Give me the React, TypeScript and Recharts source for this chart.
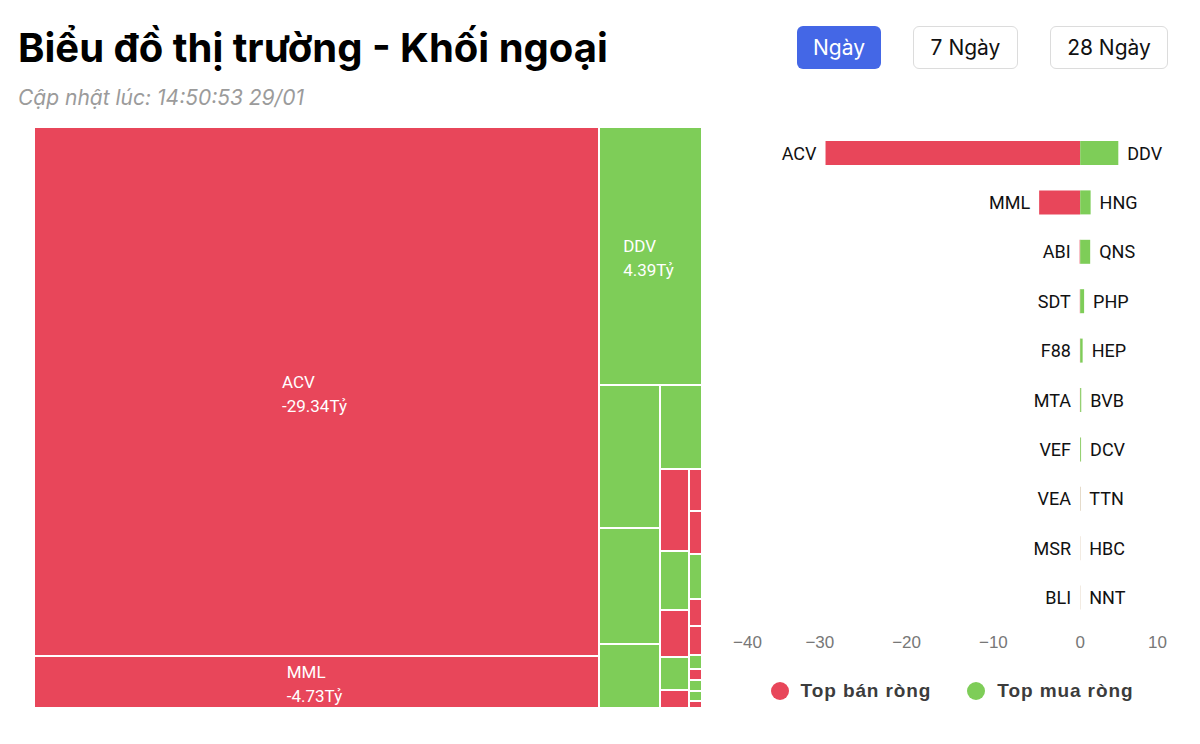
import React from 'react';
import { Treemap, BarChart, Bar, XAxis, YAxis, LabelList, Legend } from 'recharts';

const RED = '#e8465a';
const GREEN = '#7ecd58';

// top 10 net sell / net buy, tỷ đồng
const sellNames = ['ACV', 'MML', 'ABI', 'SDT', 'F88', 'MTA', 'VEF', 'VEA', 'MSR', 'BLI'];
const sellValues = [-29.34, -4.73, -0.06, -0.04, -0.03, -0.03, -0.02, -0.02, -0.01, -0.01];
const buyNames = ['DDV', 'HNG', 'QNS', 'PHP', 'HEP', 'BVB', 'DCV', 'TTN', 'HBC', 'NNT'];
const buyValues = [4.39, 1.2, 1.15, 0.45, 0.28, 0.12, 0.1, 0.02, 0.01, 0.01];
const xTicks = [-40, -30, -20, -10, 0, 10];

// treemap cells in layout order; weight = cell size
const treeNames = [
  'ACV', 'MML', 'DDV', 'HNG', 'QNS', 'PHP', 'HEP',
  'ABI', 'BVB', 'SDT', 'DCV', 'F88',
  'MTA', 'VEF', 'TTN', 'VEA', 'MSR', 'HBC', 'BLI', 'NNT', 'Khác', 'Khác',
];
const treeNet = [
  -29.34, -4.73, 4.39, 1.2, 1.15, 0.45, 0.28,
  -0.06, 0.12, -0.04, 0.1, -0.03,
  -0.03, -0.02, 0.02, -0.02, -0.01, 0.01, -0.01, 0.01, 0.01, -0.01,
];
const treeWeights = [
  49.42, 4.81, 4.39, 1.43, 1.16, 0.64, 0.59,
  0.393, 0.285, 0.225, 0.156, 0.086,
  0.094, 0.095, 0.1, 0.061, 0.064, 0.032, 0.025, 0.025, 0.023, 0.015,
];

const periods = ['Ngày', '7 Ngày', '28 Ngày'];

const leaf = (i: number) => ({ name: treeNames[i], size: treeWeights[i], net: treeNet[i] });
const range = (a: number, b: number) => Array.from({ length: b - a + 1 }, (_, k) => leaf(a + k));
// children split along the long side of the box
const stack = (...children: any[]) => ({ children });
// zero-size spacer keeps the children in one row (side by side)
const side = (...children: any[]) => ({ children: [{ name: '', size: 0 }, ...children] });

const treeData = [
  stack(leaf(0), leaf(1)),
  stack(
    leaf(2),
    side(
      stack(leaf(3), leaf(4), leaf(5)),
      stack(leaf(6), side(stack(...range(7, 11)), stack(...range(12, 21)))),
    ),
  ),
];

const barData = sellNames.map((s, i) => ({
  row: i,
  sellName: s,
  sell: sellValues[i],
  buyName: buyNames[i],
  buy: buyValues[i],
}));

const FONT = 'Roboto, "Liberation Sans", Arial, sans-serif';

let ctx: CanvasRenderingContext2D | null = null;
const textWidth = (s: string, font: string) => {
  if (!ctx) ctx = document.createElement('canvas').getContext('2d');
  if (!ctx) return s.length * 9;
  ctx.font = font;
  return ctx.measureText(s).width;
};

const TreeCell = (props: any) => {
  const { x, y, width, height, children, name, net } = props;
  if ((children && children.length) || !name || width <= 0 || height <= 0) return <g />;
  const lines = [name, `${net.toFixed(2)}Tỷ`];
  const showLabel = width > 80 && height > 44;
  const w = Math.max(...lines.map(l => textWidth(l, '17px Roboto')));
  const cx = x + width / 2;
  const cy = y + height / 2;
  return (
    <g>
      <rect x={x} y={y} width={width} height={height} fill={net < 0 ? RED : GREEN} stroke="#fff" strokeWidth={2} />
      {showLabel && (
        <text x={cx - w / 2} y={cy} fill="#fff" fontSize={17} fontFamily={FONT}>
          <tspan x={cx - w / 2 - 2} y={cy - 10} dominantBaseline="central">{lines[0]}</tspan>
          <tspan x={cx - w / 2 - 2} y={cy + 14} dominantBaseline="central">{lines[1]}</tspan>
        </text>
      )}
    </g>
  );
};

const boxOf = (p: any) => (p.viewBox && p.viewBox.width !== undefined ? p.viewBox : p);

const SellLabel = (props: any) => {
  const { x, y, width, height } = boxOf(props);
  const left = Math.min(x, x + width);
  return (
    <text x={left - 9} y={y + height / 2} textAnchor="end" dominantBaseline="central" fontSize={18} fontFamily={FONT} fill="#111">
      {props.value}
    </text>
  );
};

const BuyLabel = (props: any) => {
  const { x, y, width, height } = boxOf(props);
  const right = Math.max(x, x + width);
  return (
    <text x={right + 9} y={y + height / 2} textAnchor="start" dominantBaseline="central" fontSize={18} fontFamily={FONT} fill="#111">
      {props.value}
    </text>
  );
};

const AxisTick = ({ x, y, payload }: any) => {
  const v = payload.value;
  const anchor = v === xTicks[0] ? 'start' : v === xTicks[xTicks.length - 1] ? 'end' : 'middle';
  return (
    <text x={x} y={y} dy="0.71em" textAnchor={anchor} fontSize={17} fill="#777" fontFamily='"Liberation Sans", Arial, sans-serif'>
      {v < 0 ? `\u2212${Math.abs(v)}` : v}
    </text>
  );
};

const LegendContent = ({ payload }: any) => (
  <div style={{ display: 'flex', justifyContent: 'center', alignItems: 'center', height: 58, gap: 36, paddingLeft: 4 }}>
    {(payload || []).map((p: any) => (
      <div key={p.value} style={{ display: 'flex', alignItems: 'center', gap: 12 }}>
        <span style={{ width: 18, height: 18, borderRadius: 9, background: p.color, display: 'inline-block' }} />
        <span style={{ fontFamily: '"Liberation Sans", Arial, sans-serif', fontWeight: 700, fontSize: 19, letterSpacing: 0.9, color: '#3c3c3c' }}>
          {p.value}
        </span>
      </div>
    ))}
  </div>
);

const btnBase: React.CSSProperties = {
  position: 'absolute',
  top: 26,
  height: 43,
  boxSizing: 'border-box',
  borderRadius: 6,
  display: 'flex',
  alignItems: 'center',
  justifyContent: 'center',
  fontFamily: 'Inter, "Noto Sans", sans-serif',
  fontSize: 21,
};
const btnPos = [
  { left: 797, width: 84 },
  { left: 913, width: 105 },
  { left: 1050, width: 118 },
];

export default function App() {
  return (
    <div style={{ position: 'absolute', left: 0, top: 0, width: 1200, height: 744, background: '#fff', overflow: 'hidden' }}>
      <div
        style={{
          position: 'absolute',
          left: 18,
          top: 23,
          fontFamily: 'Inter, "Noto Sans", sans-serif',
          fontWeight: 700,
          fontSize: 40,
          lineHeight: '50px',
          color: '#000',
          whiteSpace: 'nowrap',
        }}
      >
        Biểu đồ thị trường - Khối ngoại
      </div>
      <div
        style={{
          position: 'absolute',
          left: 18,
          top: 85,
          fontFamily: 'Inter, "Noto Sans", sans-serif',
          fontStyle: 'italic',
          fontSize: 21,
          lineHeight: '26px',
          color: '#9b9b9b',
          whiteSpace: 'nowrap',
        }}
      >
        Cập nhật lúc: 14:50:53 29/01
      </div>

      {periods.map((p, i) => (
        <div
          key={p}
          style={{
            ...btnBase,
            ...btnPos[i],
            background: i === 0 ? '#4467e6' : '#fff',
            color: i === 0 ? '#fff' : '#111',
            border: i === 0 ? 'none' : '1px solid #dcdcdc',
          }}
        >
          {p}
        </div>
      ))}

      <div style={{ position: 'absolute', left: 34, top: 127 }}>
        <Treemap
          width={668}
          height={581}
          data={treeData}
          dataKey="size"
          aspectRatio={0.01}
          isAnimationActive={false}
          content={TreeCell}
        />
      </div>

      <div style={{ position: 'absolute', left: 720, top: 110 }}>
        <BarChart
          width={464}
          height={610}
          data={barData}
          layout="vertical"
          stackOffset="sign"
          margin={{ top: 18, right: 17, bottom: 0, left: 13 }}
        >
          <XAxis
            type="number"
            domain={[-40, 10]}
            ticks={xTicks}
            axisLine={false}
            tickLine={false}
            tickMargin={8}
            height={40}
            tick={<AxisTick />}
            interval={0}
          />
          <YAxis type="category" dataKey="row" hide />
          <Legend verticalAlign="bottom" height={58} content={<LegendContent />} />
          <Bar dataKey="sell" name="Top bán ròng" stackId="a" fill={RED} barSize={24} isAnimationActive={false}>
            <LabelList dataKey="sellName" content={<SellLabel />} />
          </Bar>
          <Bar dataKey="buy" name="Top mua ròng" stackId="a" fill={GREEN} barSize={24} isAnimationActive={false}>
            <LabelList dataKey="buyName" content={<BuyLabel />} />
          </Bar>
        </BarChart>
      </div>
    </div>
  );
}
